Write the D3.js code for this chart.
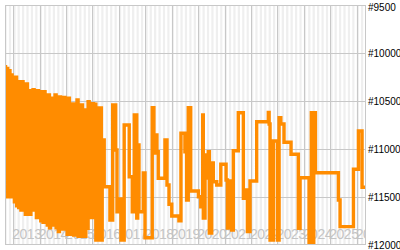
<!DOCTYPE html>
<html>
<head>
<meta charset="utf-8">
<script src="https://cdn.jsdelivr.net/npm/d3@7"></script>
<style>
  html, body { margin: 0; padding: 0; background: #fff; }
  svg { display: block; }
</style>
</head>
<body>
<div id="chart"></div>
<script>
// rank history, early years flip between two ranks almost every day
var denseMonths = ["2012-09","2012-10","2012-11","2012-12","2013-01","2013-02","2013-03","2013-04",
  "2013-05","2013-06","2013-07","2013-08","2013-09","2013-10","2013-11","2013-12","2014-01","2014-02",
  "2014-03","2014-04","2014-05","2014-06","2014-07","2014-08","2014-09","2014-10","2014-11","2014-12",
  "2015-01","2015-02","2015-03","2015-04","2015-05","2015-06","2015-07","2015-08","2015-09","2015-10",
  "2015-11","2015-12","2016-01","2016-02","2016-03"];
var denseHigh = [10142,10160,10184,10229,10253,10253,10326,10299,10299,10323,10323,10393,10393,10382,
  10393,10393,10437,10403,10403,10437,10437,10472,10472,10437,10458,10458,10462,10462,10472,10472,
  10576,10531,10559,10490,10542,10542,10639,10594,10507,10646,10528,10534,10576];
var denseLow = [11300,11497,11497,11497,11549,11591,11611,11635,11635,11680,11625,11680,11635,11635,
  11715,11670,11747,11764,11764,11792,11820,11792,11680,11820,11861,11715,11833,11750,11889,11889,
  11826,11896,11820,11910,11910,11861,11910,11826,11306,11715,11549,11948,11948];

var stepDates = ["2016-04-01","2016-05-03","2016-05-14","2016-06-11","2016-08-29","2016-10-06",
  "2016-11-17","2016-12-05","2016-12-23","2017-01-29","2017-03-14","2017-05-23","2017-07-04",
  "2017-08-01","2017-09-04","2017-09-17","2017-10-05","2017-12-04","2017-12-27","2018-04-06",
  "2018-04-29","2018-05-23","2018-06-10","2018-06-28","2018-09-29","2018-10-27","2018-11-24",
  "2019-01-01","2019-04-10","2019-05-08","2019-07-02","2019-07-25","2019-08-17","2019-09-20",
  "2020-01-04","2020-02-06","2020-03-04","2020-03-12","2020-04-05","2020-04-28","2020-05-20",
  "2020-06-04","2020-07-06","2020-07-28","2020-09-14","2020-11-09","2021-01-21","2021-02-09",
  "2021-03-06","2021-04-09","2021-05-01","2021-07-09","2021-09-17","2021-10-24","2021-11-12",
  "2021-12-18","2022-03-20","2022-08-28","2022-09-08","2022-09-21","2022-11-06","2023-01-01",
  "2023-01-24","2023-02-17","2023-04-02","2023-07-08","2023-10-17","2023-11-10","2024-03-13",
  "2024-04-14","2024-05-01","2024-05-17","2024-06-09","2025-04-23","2025-05-16","2025-11-17",
  "2026-01-25","2026-03-16","2026-05-10"];
var stepRanks = [10573,11948,10906,11393,11740,10542,11010,11653,11521,11948,10750,11289,11653,
  10646,11719,10958,11653,11250,11924,10570,11042,10854,11028,11305,10906,11375,11576,11698,11747,
  10836,11028,11531,10570,11438,11497,11601,10646,11719,11063,11302,11028,11875,11146,11341,11375,
  11159,11323,11823,11333,11844,11018,10622,11514,11427,11861,11333,10716,10618,10740,11948,10917,
  11948,10674,10740,10930,11055,11826,11299,11982,10622,11982,10622,11247,11531,11809,11211,10813,
  11399,11399];

var rankTicks = [9500, 10000, 10500, 11000, 11500, 12000];
var yearLabels = ["2013","2014","2015","2016","2017","2018","2019","2020","2021","2022",
  "2023","2024","2025","2026"];

var W = 400, H = 250;
var plot = {left: 5, right: 366, top: 5, bottom: 245};
var parse = d3.timeParse("%Y-%m-%d");

var x = d3.scaleTime()
  .domain([parse("2013-01-01"), parse("2026-01-01")])
  .range([13.3, 356.7]);
var y = d3.scaleLinear()
  .domain([9500, 12000])
  .range([plot.top, plot.bottom]);

var points = [];
denseMonths.forEach(function(m, i){
  points.push([parse(m + "-01"), denseHigh[i]]);
  points.push([parse(m + "-16"), denseLow[i]]);
});
stepDates.forEach(function(d, i){
  points.push([parse(d), stepRanks[i]]);
});

var svg = d3.select("#chart")
  .append("svg")
  .attr("width", W)
  .attr("height", H);

svg.append("clipPath")
  .attr("id", "plotclip")
  .append("rect")
  .attr("x", plot.left)
  .attr("y", plot.top)
  .attr("width", plot.right - plot.left)
  .attr("height", plot.bottom - plot.top);

var g = svg.append("g").attr("clip-path", "url(#plotclip)");

g.append("rect")
  .attr("x", plot.left).attr("y", plot.top)
  .attr("width", plot.right - plot.left)
  .attr("height", plot.bottom - plot.top)
  .attr("fill", "#fff");

// alternating month bands
var months = d3.timeMonth.range(parse("2012-08-01"), parse("2026-07-01"));
g.selectAll(".band")
  .data(months.filter(function(m){ return m.getMonth() % 2 == 0; }))
  .enter().append("rect")
  .attr("class", "band")
  .attr("x", function(d){ return x(d); })
  .attr("y", plot.top)
  .attr("width", function(d){ return x(d3.timeMonth.offset(d, 1)) - x(d); })
  .attr("height", plot.bottom - plot.top)
  .attr("fill", "#efefef");

// year grid
g.selectAll(".vgrid")
  .data(yearLabels)
  .enter().append("line")
  .attr("class", "vgrid")
  .attr("x1", function(d){ return Math.round(x(parse(d + "-01-01"))) + 0.5; })
  .attr("x2", function(d){ return Math.round(x(parse(d + "-01-01"))) + 0.5; })
  .attr("y1", plot.top).attr("y2", plot.bottom)
  .attr("stroke", "#c8c8c8");

g.selectAll(".hgrid")
  .data(rankTicks)
  .enter().append("line")
  .attr("class", "hgrid")
  .attr("x1", plot.left).attr("x2", plot.right)
  .attr("y1", function(d){ return Math.round(y(d)) + 0.5; })
  .attr("y2", function(d){ return Math.round(y(d)) + 0.5; })
  .attr("stroke", "#c8c8c8");

g.selectAll(".year")
  .data(yearLabels)
  .enter().append("text")
  .attr("class", "year")
  .attr("x", function(d){ return x(parse(d + "-01-01")) - 1; })
  .attr("y", 238.5)
  .attr("font-family", "Liberation Sans, Arial, sans-serif")
  .attr("font-size", 14)
  .attr("letter-spacing", -0.5)
  .attr("fill", "#c4c4c4")
  .text(function(d){ return d; });

var line = d3.line()
  .x(function(d){ return x(d[0]); })
  .y(function(d){ return y(d[1]); })
  .curve(d3.curveStepAfter);

g.append("path")
  .datum(points)
  .attr("d", line)
  .attr("fill", "none")
  .attr("stroke", "#ff8c00")
  .attr("stroke-width", 3.4);

svg.append("rect")
  .attr("x", plot.left + 0.5).attr("y", plot.top + 0.5)
  .attr("width", plot.right - plot.left - 1)
  .attr("height", plot.bottom - plot.top - 1)
  .attr("fill", "none")
  .attr("stroke", "#c8c8c8");

svg.selectAll(".rank")
  .data(rankTicks)
  .enter().append("text")
  .attr("class", "rank")
  .attr("x", 368)
  .attr("y", function(d){ return Math.max(y(d), 7); })
  .attr("dy", "0.35em")
  .attr("font-family", "Liberation Sans, Arial, sans-serif")
  .attr("font-size", 10)
  .attr("fill", "#000")
  .text(function(d){ return "#" + d; });
</script>
</body>
</html>
